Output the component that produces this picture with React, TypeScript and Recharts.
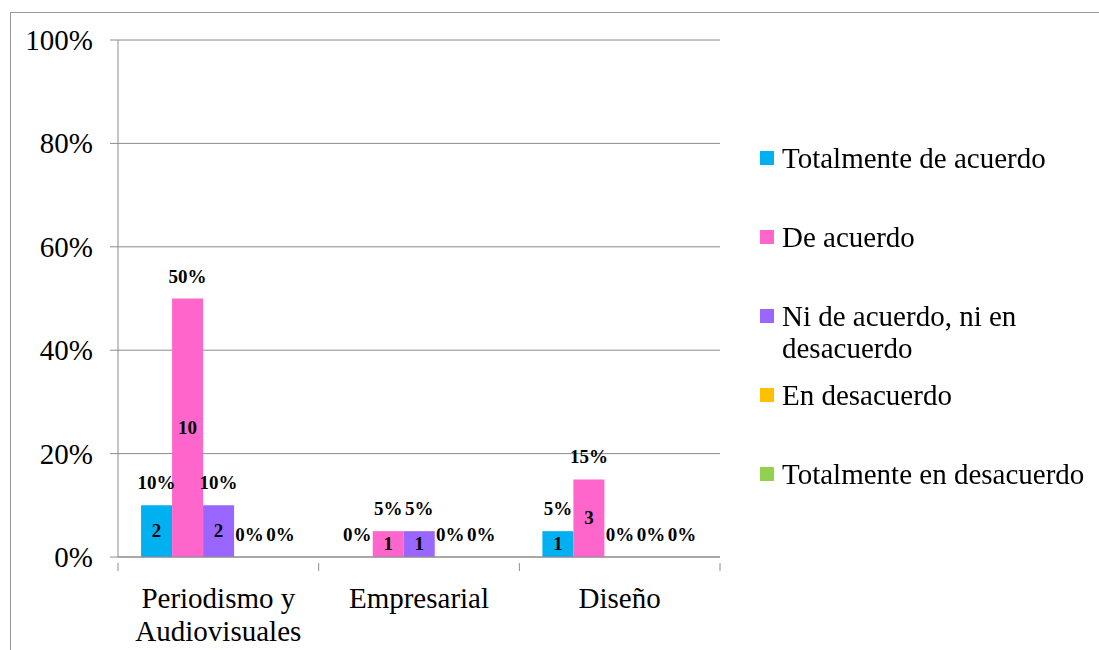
import { BarChart, Bar, XAxis, YAxis, CartesianGrid, LabelList } from "recharts";

const categories = ["Periodismo y Audiovisuales", "Empresarial", "Diseño"];
const seriesNames = [
  "Totalmente de acuerdo",
  "De acuerdo",
  "Ni de acuerdo, ni en desacuerdo",
  "En desacuerdo",
  "Totalmente en desacuerdo",
];
const seriesColors = ["#00B0F0", "#FF66CC", "#9966FF", "#FFC000", "#92D050"];

// percentages per series (one value per category)
const totalmenteAcuerdo = [10, 0, 5];
const deAcuerdo = [50, 5, 15];
const niAcuerdoNiDesacuerdo = [10, 5, 0];
const enDesacuerdo = [0, 0, 0];
const totalmenteDesacuerdo = [0, 0, 0];

// respondent counts per series
const totalmenteAcuerdoN = [2, 0, 1];
const deAcuerdoN = [10, 1, 3];
const niAcuerdoNiDesacuerdoN = [2, 1, 0];
const enDesacuerdoN = [0, 0, 0];
const totalmenteDesacuerdoN = [0, 0, 0];

const yTicks = [0, 20, 40, 60, 80, 100];

const percents = [totalmenteAcuerdo, deAcuerdo, niAcuerdoNiDesacuerdo, enDesacuerdo, totalmenteDesacuerdo];
const counts = [totalmenteAcuerdoN, deAcuerdoN, niAcuerdoNiDesacuerdoN, enDesacuerdoN, totalmenteDesacuerdoN];

const data = categories.map((cat, i) => {
  const row: Record<string, string | number> = { cat };
  percents.forEach((arr, s) => {
    row["p" + s] = arr[i];
    row["n" + s] = counts[s][i];
  });
  return row;
});

const FONT = "'Liberation Serif', 'Times New Roman', serif";
const GRAY = "#8c8c8c";
const W = 1099;
const H = 650;
const LEFT = 118;
const RIGHT_MARGIN = 379;
const X_AXIS_H = 93;
const HALF_BAND = (W - RIGHT_MARGIN - LEFT) / categories.length / 2;

function wrapWords(text: string, maxChars: number) {
  const lines: string[] = [];
  let cur = "";
  text.split(" ").forEach((w) => {
    const next = cur ? cur + " " + w : w;
    if (next.length > maxChars && cur) {
      lines.push(cur);
      cur = w;
    } else cur = next;
  });
  if (cur) lines.push(cur);
  return lines;
}

function CategoryTick(props: any) {
  const { x, y, payload, index } = props;
  const lines = wrapWords(String(payload.value), 14);
  return (
    <g>
      <line x1={x - HALF_BAND} x2={x - HALF_BAND} y1={y} y2={y + 8} stroke={GRAY} />
      {index === categories.length - 1 && (
        <line x1={x + HALF_BAND} x2={x + HALF_BAND} y1={y} y2={y + 8} stroke={GRAY} />
      )}
      {lines.map((l, k) => (
        <text key={k} x={x} y={y + 45 + k * 33} textAnchor="middle" fontFamily={FONT} fontSize={29} fill="#000">
          {l}
        </text>
      ))}
    </g>
  );
}

function PercentTick(props: any) {
  const { x, y, payload } = props;
  return (
    <text x={x} y={y + 10} textAnchor="end" fontFamily={FONT} fontSize={29} fill="#000">
      {payload.value}%
    </text>
  );
}

function PercentLabel(props: any) {
  const x = Number(props.x);
  const y = Number(props.y);
  const w = Number(props.width);
  return (
    <text x={x + w / 2} y={y - 16} textAnchor="middle" fontFamily={FONT} fontWeight="bold" fontSize={19} fill="#000">
      {props.value}%
    </text>
  );
}

function CountLabel(props: any) {
  if (!props.value) return null;
  const x = Number(props.x);
  const y = Number(props.y);
  const w = Number(props.width);
  const h = Number(props.height);
  return (
    <text x={x + w / 2} y={y + h / 2 + 6} textAnchor="middle" fontFamily={FONT} fontWeight="bold" fontSize={19} fill="#000">
      {props.value}
    </text>
  );
}

function LegendBox() {
  return (
    <div
      style={{
        position: "absolute",
        left: 760,
        top: 142,
        width: 340,
        fontFamily: FONT,
        fontSize: 29,
        lineHeight: "32px",
        color: "#000",
      }}
    >
      {seriesNames.map((name, i) => (
        <div key={name} style={{ display: "flex", alignItems: "flex-start", height: 79 }}>
          <span
            style={{
              display: "inline-block",
              width: 14,
              height: 14,
              marginTop: 9,
              marginRight: 8,
              background: seriesColors[i],
              flex: "none",
            }}
          />
          <span style={{ width: 312 }}>{name}</span>
        </div>
      ))}
    </div>
  );
}

export default function App() {
  return (
    <div style={{ position: "fixed", left: 0, top: 0, width: W, height: H, background: "#fff" }}>
      <div
        style={{
          position: "absolute",
          left: 10,
          top: 12,
          width: W - 10,
          height: H - 12,
          borderTop: "1px solid #999",
          borderLeft: "1px solid #999",
        }}
      />
      <div style={{ position: "absolute", left: 0, top: 0 }}>
        <BarChart
          width={W}
          height={H}
          data={data}
          margin={{ top: 40, right: RIGHT_MARGIN, bottom: 0, left: 0 }}
          barCategoryGap="11.5%"
          barGap={0}
        >
          <CartesianGrid vertical={false} stroke={GRAY} />
          <XAxis
            dataKey="cat"
            height={X_AXIS_H}
            axisLine={{ stroke: GRAY }}
            tickLine={false}
            tick={<CategoryTick />}
            interval={0}
            tickMargin={0}
          />
          <YAxis
            width={LEFT}
            domain={[0, 100]}
            ticks={yTicks}
            axisLine={{ stroke: GRAY }}
            tickLine={{ stroke: GRAY }}
            tickSize={8}
            tickMargin={17}
            tick={<PercentTick />}
          />
          {seriesNames.map((name, s) => (
            <Bar
              key={name}
              dataKey={"p" + s}
              name={name}
              fill={seriesColors[s]}
              minPointSize={(v: number) => (v === 0 ? 0.01 : 0)}
              isAnimationActive={false}
            >
              <LabelList dataKey={"p" + s} content={<PercentLabel />} />
              <LabelList dataKey={"n" + s} content={<CountLabel />} />
            </Bar>
          ))}
        </BarChart>
      </div>
      <LegendBox />
    </div>
  );
}
